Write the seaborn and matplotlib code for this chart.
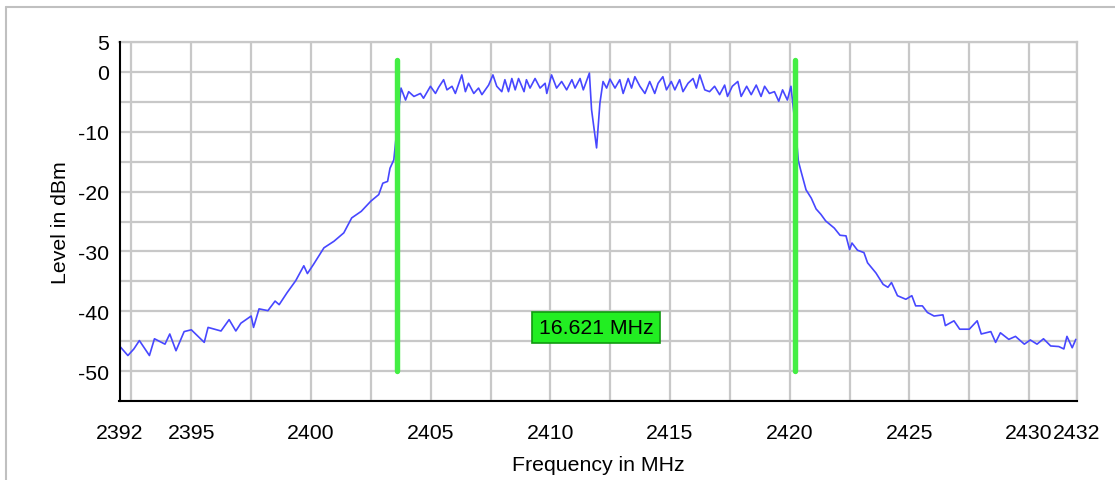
import matplotlib
matplotlib.use("Agg")
import matplotlib.pyplot as plt
from matplotlib.lines import Line2D
import seaborn as sns
import pandas as pd

# ---- data ----
left_freq = [2392.0, 2392.35, 2392.6, 2392.83, 2393.25, 2393.46, 2393.9, 2394.1, 2394.36, 2394.7,
             2395.0, 2395.54, 2395.7, 2396.24, 2396.58, 2396.86, 2397.07, 2397.5, 2397.6, 2397.83,
             2398.2, 2398.5, 2398.67, 2399.0, 2399.36, 2399.7, 2399.85, 2400.1, 2400.54, 2400.96,
             2401.37, 2401.7, 2402.1, 2402.5, 2402.83, 2403.0, 2403.2, 2403.3, 2403.46]
left_level = [-45.8, -47.4, -46.3, -44.9, -47.4, -44.6, -45.5, -43.8, -46.6, -43.4,
              -43.1, -45.2, -42.7, -43.3, -41.4, -43.3, -42.0, -40.8, -42.7, -39.6,
              -39.9, -38.3, -38.9, -36.9, -34.9, -32.4, -33.7, -32.2, -29.4, -28.3,
              -26.9, -24.4, -23.3, -21.6, -20.5, -18.6, -18.3, -16.1, -14.7]

band_freq = [2403.76, 2403.95, 2404.08, 2404.3, 2404.57, 2404.7, 2404.99, 2405.2, 2405.33, 2405.54,
             2405.68, 2405.89, 2406.03, 2406.3, 2406.45, 2406.58, 2406.8, 2407.0, 2407.14, 2407.42,
             2407.6, 2407.76, 2407.97, 2408.1, 2408.25, 2408.39, 2408.53, 2408.67, 2408.9, 2409.0,
             2409.15, 2409.36, 2409.57, 2409.78, 2409.85, 2410.05, 2410.26, 2410.47, 2410.68, 2410.9,
             2411.03, 2411.24, 2411.375, 2411.63, 2411.72, 2411.93, 2412.07, 2412.2, 2412.35, 2412.49,
             2412.7, 2412.9, 2413.04, 2413.25, 2413.39, 2413.53, 2413.74, 2413.95, 2414.15, 2414.36,
             2414.5, 2414.7, 2414.85, 2415.05, 2415.2, 2415.4, 2415.54, 2415.75, 2415.96, 2416.1,
             2416.24, 2416.45, 2416.65, 2416.86, 2417.07, 2417.28, 2417.4, 2417.6, 2417.83, 2417.97,
             2418.2, 2418.39, 2418.6, 2418.8, 2418.95, 2419.15, 2419.36, 2419.54, 2419.7, 2419.9,
             2420.05]
band_level = [-2.7, -4.7, -3.3, -4.1, -3.6, -4.4, -2.4, -3.6, -2.6, -1.3,
              -3.0, -2.4, -3.6, -0.5, -3.3, -1.9, -3.6, -2.7, -3.8, -2.2,
              -0.5, -2.4, -3.3, -1.3, -3.3, -1.1, -3.0, -1.1, -3.3, -1.3,
              -2.7, -1.1, -2.7, -1.9, -3.6, -0.5, -2.7, -1.6, -3.0, -1.3,
              -2.7, -1.1, -3.0, -0.2, -6.3, -12.7, -5.2, -1.6, -2.7, -1.2,
              -2.7, -1.3, -3.6, -1.1, -2.7, -0.8, -2.4, -3.6, -1.6, -3.6,
              -1.9, -0.8, -3.0, -1.6, -3.0, -1.3, -3.3, -1.9, -1.1, -2.7,
              -0.5, -3.0, -3.3, -2.4, -3.8, -2.2, -4.1, -2.4, -1.6, -4.1,
              -2.4, -3.8, -2.2, -4.1, -2.4, -3.6, -3.3, -4.9, -3.0, -4.7,
              -2.4]

right_freq = [2420.26, 2420.36, 2420.47, 2420.68, 2420.9, 2421.1, 2421.3, 2421.5, 2421.65, 2421.86,
              2422.1, 2422.35, 2422.5, 2422.6, 2422.83, 2423.1, 2423.25, 2423.6, 2423.9, 2424.1,
              2424.25, 2424.5, 2424.85, 2425.1, 2425.26, 2425.54, 2425.75, 2426.03, 2426.4, 2426.5,
              2426.86, 2427.1, 2427.5, 2427.83, 2428.0, 2428.4, 2428.6, 2428.8, 2429.15, 2429.43,
              2429.8, 2430.05, 2430.33, 2430.6, 2430.9, 2431.24, 2431.45, 2431.58, 2431.8, 2431.95]
right_level = [-10.2, -14.9, -16.6, -19.7, -21.1, -22.9, -23.8, -24.9, -25.4, -26.1,
               -27.3, -27.4, -29.7, -28.6, -29.8, -30.2, -31.9, -33.6, -35.5, -36.0,
               -35.2, -37.4, -38.0, -37.4, -39.1, -39.1, -40.2, -40.8, -40.6, -42.4,
               -41.6, -43.0, -43.0, -41.6, -43.8, -43.4, -45.2, -43.6, -44.7, -44.2,
               -45.5, -44.8, -45.5, -44.6, -45.8, -45.9, -46.3, -44.2, -46.1, -44.7]

marker_freqs = [2403.6, 2420.221]
marker_bottom = -50
marker_top = 2
bandwidth_label = "16.621 MHz"
label_level = -42.7

x_min, x_max = 2392, 2432
y_min, y_max = -55, 5
x_ticks = [2392, 2392.5, 2395, 2397.5, 2400, 2402.5, 2405, 2407.5, 2410, 2412.5, 2415,
           2417.5, 2420, 2422.5, 2425, 2427.5, 2430, 2432]
x_tick_labels = ["2392", "", "2395", "", "2400", "", "2405", "", "2410", "", "2415",
                 "", "2420", "", "2425", "", "2430", "2432"]
y_ticks = [-55, -50, -45, -40, -35, -30, -25, -20, -15, -10, -5, 0, 5]
y_tick_labels = ["", "-50", "", "-40", "", "-30", "", "-20", "", "-10", "", "0", "5"]

# ---- figure ----
sns.set_theme(style="white")
plt.rcParams["font.family"] = ["Liberation Sans", "DejaVu Sans"]

FS = 15.3
W, H = 1115, 481
fig = plt.figure(figsize=(W / 100, H / 100), dpi=100)
ax = fig.add_axes([119.5 / W, 1 - 402 / H, (1077 - 119.5) / W, (402 - 43) / H])

df = pd.DataFrame({
    "freq": left_freq + band_freq + right_freq,
    "level": left_level + band_level + right_level,
})
sns.lineplot(data=df, x="freq", y="level", ax=ax, color="#4747ff", linewidth=1.2,
             sort=False, estimator=None, zorder=3)

for f in marker_freqs:
    ax.plot([f, f], [marker_bottom, marker_top], color="#44ee44", linewidth=3.9,
            solid_capstyle="round", zorder=4)

ax.text(sum(marker_freqs) / 2, label_level, bandwidth_label, ha="center", va="center",
        fontsize=FS, color="black", zorder=5,
        bbox=dict(boxstyle="square,pad=0.3", facecolor="#22ee22", edgecolor="#119911",
                  linewidth=1.2))

ax.set_xlim(x_min, x_max)
ax.set_ylim(y_min, y_max)
ax.set_xticks(x_ticks)
ax.set_xticklabels(x_tick_labels)
ax.set_yticks(y_ticks)
ax.set_yticklabels(y_tick_labels)
ax.tick_params(axis="both", direction="inout", length=11, width=1.3, color="black",
               labelsize=FS, labelcolor="black")
ax.tick_params(axis="x", pad=10)
ax.tick_params(axis="y", pad=2)

ax.grid(True, color="#c8c8c8", linewidth=1.6, zorder=0)
ax.set_axisbelow(True)
for side in ["top", "right"]:
    ax.spines[side].set_visible(True)
    ax.spines[side].set_color("#c8c8c8")
    ax.spines[side].set_linewidth(1.6)
for side in ["left", "bottom"]:
    ax.spines[side].set_color("black")
    ax.spines[side].set_linewidth(1.5)
    ax.spines[side].set_zorder(6)

ax.set_xlabel("Frequency in MHz", fontsize=FS, color="black", labelpad=10)
ax.set_ylabel("Level in dBm", fontsize=FS, color="black", labelpad=6)

# outer light border
fig.add_artist(Line2D([6 / W, 6 / W], [0, 1 - 8 / H], transform=fig.transFigure,
                      color="#c0c0c0", linewidth=1.5))
fig.add_artist(Line2D([6 / W, 1], [1 - 8 / H, 1 - 8 / H], transform=fig.transFigure,
                      color="#c0c0c0", linewidth=1.5))

fig.savefig("out.png", dpi=100)
